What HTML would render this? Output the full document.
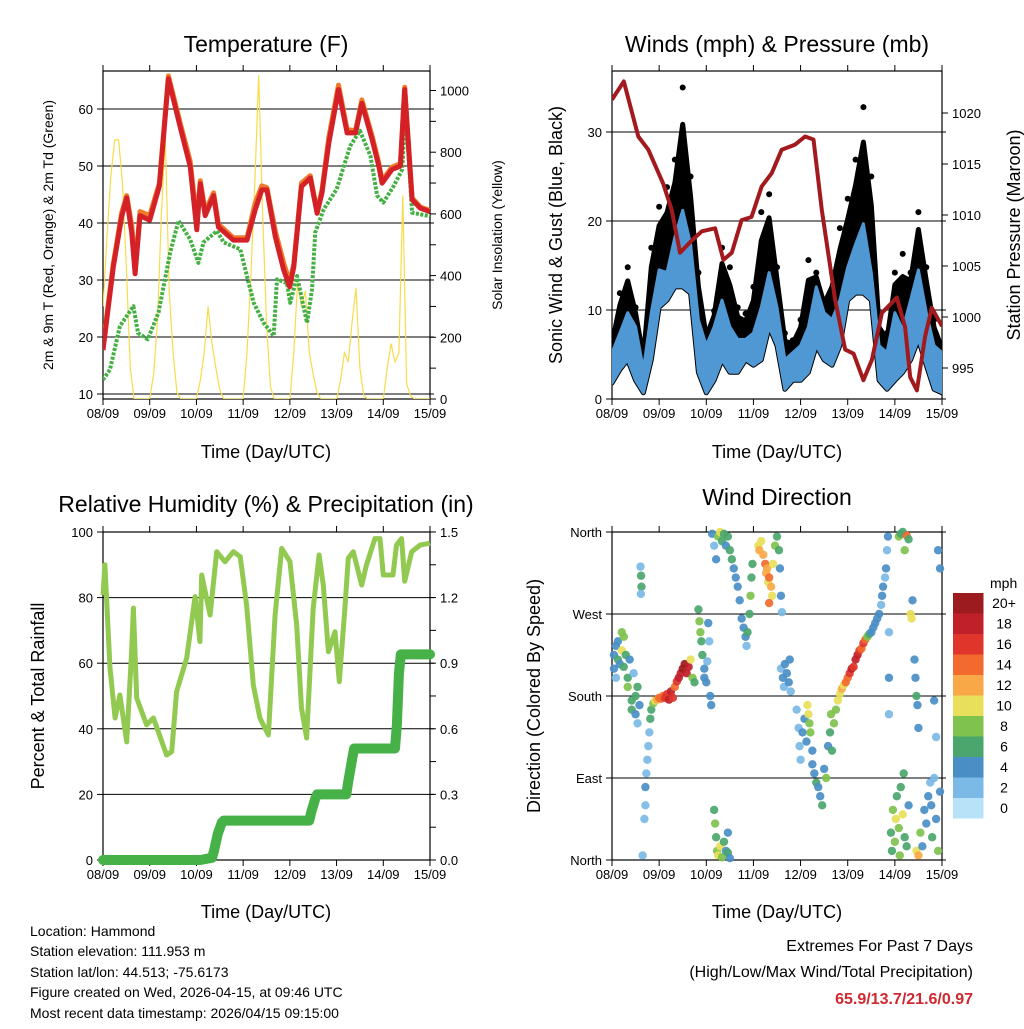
<!DOCTYPE html>
<html><head><meta charset="utf-8">
<style>
html,body{margin:0;padding:0;background:#fff;}
body{width:1024px;height:1024px;overflow:hidden;font-family:"Liberation Sans",sans-serif;}
svg text{font-family:"Liberation Sans",sans-serif;fill:#000;}
</style></head>
<body>
<svg id="chart" xmlns="http://www.w3.org/2000/svg" width="1024" height="1024" viewBox="0 0 1024 1024">
<rect x="0" y="0" width="1024" height="1024" fill="#fff"/>
<text x="266" y="52" font-size="23" text-anchor="middle">Temperature (F)</text>
<text x="777" y="52" font-size="23" text-anchor="middle">Winds (mph) &amp; Pressure (mb)</text>
<text x="266" y="512" font-size="23" text-anchor="middle">Relative Humidity (%) &amp; Precipitation (in)</text>
<text x="777" y="505" font-size="23" text-anchor="middle">Wind Direction</text>
<text x="266" y="458" font-size="18" text-anchor="middle">Time (Day/UTC)</text>
<text x="777" y="458" font-size="18" text-anchor="middle">Time (Day/UTC)</text>
<text x="266" y="918" font-size="18" text-anchor="middle">Time (Day/UTC)</text>
<text x="777" y="918" font-size="18" text-anchor="middle">Time (Day/UTC)</text>
<text transform="translate(53,235) rotate(-90)" font-size="14" text-anchor="middle">2m &amp; 9m T (Red, Orange) &amp; 2m Td (Green)</text>
<text transform="translate(502,235) rotate(-90)" font-size="14" text-anchor="middle">Solar Insolation (Yellow)</text>
<text transform="translate(562,235) rotate(-90)" font-size="18" text-anchor="middle">Sonic Wind &amp; Gust (Blue, Black)</text>
<text transform="translate(1020,235) rotate(-90)" font-size="18" text-anchor="middle">Station Pressure (Maroon)</text>
<text transform="translate(44,696) rotate(-90)" font-size="18" text-anchor="middle">Percent &amp; Total Rainfall</text>
<text transform="translate(540,696) rotate(-90)" font-size="18" text-anchor="middle">Direction (Colored By Speed)</text>
<g font-size="14">
<text x="30" y="936">Location: Hammond</text>
<text x="30" y="956">Station elevation: 111.953 m</text>
<text x="30" y="977">Station lat/lon: 44.513; -75.6173</text>
<text x="30" y="997">Figure created on Wed, 2026-04-15, at 09:46 UTC</text>
<text x="30" y="1018">Most recent data timestamp: 2026/04/15 09:15:00</text>
</g>
<g font-size="16" text-anchor="end">
<text x="973" y="951">Extremes For Past 7 Days</text>
<text x="973" y="977">(High/Low/Max Wind/Total Precipitation)</text>
<text x="973" y="1004" font-weight="bold" style="fill:#d0282f">65.9/13.7/21.6/0.97</text>
</g>
<g id="layer"></g>
</svg>
<script>
// ---------- data ----------
const dayLabels = ["08/09","09/09","10/09","11/09","12/09","13/09","14/09","15/09"];
const tempT = [0,5.3,9.6,12.2,14.8,16.5,19,24,29,33.6,39.6,44.8,48.2,50,52.5,56.8,59.3,67,74,78.2,81.6,84.2,88.5,92.8,95.9,98,102,106.5,110,112.5,116,121,125.4,129.7,133,138.3,141.7,143.4,148.5,152.8,155,158.8,163,168];
const tempRed = [17.7,32.3,41.1,44.4,38.2,31.1,41.3,40.5,46.5,65.3,56.9,49.9,38.8,46.9,41.3,44.8,39.3,37.0,37.0,42.3,45.8,45.8,37.6,31.8,28.8,32.3,46.4,47.9,41.7,45.3,54.0,63.4,55.8,55.8,61.0,54.6,50.0,47.0,49.4,50.0,63.4,44.1,42.6,42.0];
const tempOrange = [18.5,32.8,41.8,44.8,39.5,31.8,42.0,41.3,47.0,65.8,57.6,50.8,40.2,47.4,42.0,45.3,39.8,37.4,37.4,43.5,46.5,46.2,38.6,33.0,29.6,32.8,47.0,48.3,42.0,45.8,55.0,64.2,56.4,56.2,61.6,55.2,50.5,47.5,49.8,50.4,63.8,44.4,42.8,42.2];
const dewT = [0,3.6,8.7,15.6,18,23,28.5,34.5,38.8,44.8,49,51.6,58.5,62,70.5,77.4,82.5,87.7,89.4,94.5,96.2,99.7,104.8,107.4,109,113.4,120,127,132,137.4,140.8,144,149.4,153.7,155.4,158.8,168];
const dewV = [12.5,14.3,21.9,25.4,20.7,19.6,24.3,34.8,40.4,37.1,33.0,36.6,38.6,36.6,35.4,26.0,22.5,20.2,30.1,29.5,26.0,30.7,22.5,28.3,38.3,42.4,45.9,53.5,56.2,51.8,44.8,43.6,46.5,49.4,60.0,41.8,41.2];
const solarT = [0,2,4,6,8,10,12,14,16,24,26,28,30,32,34,36,38,40,48,50,52,54,56,58,60,62,72,74,76,78,80,82,84,86,88,96,98,100,102,104,106,108,110,112,120,122,124,126,128,130,132,134,136,144,146,148,150,152,154,156,158,160,168];
const solarV = [300,520,720,840,840,700,420,100,0,0,80,250,600,850,350,150,20,0,0,60,150,300,180,100,30,0,0,150,400,700,1050,600,250,40,0,0,150,380,300,350,150,80,20,0,0,60,150,120,250,360,100,10,0,0,100,180,120,150,660,50,10,0,0];
const windT = [0,4,8,12,16,20,24,28,32,36,40,44,48,52,56,60,64,68,72,76,80,84,88,92,96,100,104,108,112,116,120,124,128,132,136,140,144,148,152,156,160,164,168];
const windLow = [1.8,3.3,4.4,2.1,0.7,4.4,10.3,11.1,12.6,12.6,11.9,3.0,0.7,2.1,4.4,3.0,3.0,4.4,3.8,4.4,8.1,6.0,1.1,2.1,2.1,3.0,6.0,4.4,3.8,6.0,11.1,11.9,11.9,11.1,2.1,1.1,2.1,3.0,4.4,6.7,3.8,1.1,0.7];
const windHigh = [5.2,7.4,9.7,8.1,3.3,9.7,14.5,14.2,18.2,21.2,17.4,8.9,6.0,8.1,11.1,8.1,6.7,6.7,7.4,10.3,14.2,10.3,4.4,5.2,6.0,8.1,12.6,9.7,8.9,11.1,14.8,17.4,19.7,14.2,6.0,5.2,9.7,7.8,11.1,14.5,9.7,6.0,5.2];
const gustHigh = [6.6,11.9,14.8,10.3,5.2,17.0,21.6,23.8,26.9,35.0,25.0,14.2,7.4,9.9,17.0,14.8,10.3,9.6,12.6,21.0,23.0,14.8,7.4,6.6,8.9,15.6,14.2,11.1,14.2,19.2,22.5,26.9,32.8,25.0,8.9,7.4,14.2,16.3,14.2,21.0,14.8,8.9,5.9];
const presT = [0,6,13.4,18.5,26,30.4,34.6,40.6,45.7,52.5,56.7,61,66,71,76.2,81.3,86.4,93.2,98.3,102.6,106.8,113.6,118.7,123,128,132.3,137.4,145,149.2,151.8,155.2,159.4,162.8,168];
const presV = [1021.3,1023.1,1017.7,1016.4,1013.1,1010.5,1006.3,1007.5,1008.4,1008.7,1005.6,1006.3,1009.5,1009.8,1012.8,1014.1,1016.4,1016.9,1017.7,1017.4,1010.5,1001.7,996.8,996.4,993.8,995.8,1000.4,1001.9,999.0,994.1,992.8,998.1,1000.9,999.1];
const rhT = [0,1,3.6,6.2,8.7,12.2,14.7,15.6,17.3,22.4,25.9,32.7,35.3,37.8,43,47.3,49.8,50.7,55,58.4,62.7,67,70.5,73.8,77.2,80.6,85,88.4,91.8,96,99.5,102,104.6,108,111,113.2,115.8,119.2,121.4,124.3,126,128.6,132.9,135.4,139.7,142.3,144,149,150.8,153.4,155,158.6,162.9,168];
const rhV = [80.8,90,58.5,43.3,50.3,36,63.5,76.8,49.4,41.2,43.3,32,33,51.3,61.6,80.3,66.6,86.9,74.7,94,90.9,94,92.5,77.7,53.4,43.3,38.1,74.7,95,91,71.6,46.3,37.2,76.8,93,83.8,63.5,69.6,54.4,76.8,92,94,83.8,90,98,98,86.9,86.9,96,98,85,94,96,96.6];
const precipT = [0,50,56,57,59,61,62,106,107,109,110,125,126,128,129,150,151,152,153,168];
const precipV = [0,0,0.01,0.04,0.12,0.17,0.18,0.18,0.22,0.28,0.30,0.30,0.36,0.46,0.51,0.51,0.62,0.85,0.94,0.94];
const dirT = [1,1,2,2,3,3,4,5,5,6,6,7,8,8,9,10,10,11,12,12,13,13,14,14.5,14.8,15,14.7,15.6,16.5,17,17,17.5,18,18.5,19,19.5,20,21,22,23,24,25,26,27,28,29,30,31,32,33,34,35,36,37,38,39,40,41,42,44,44.5,45,45.5,46,47,47,48,48.5,49,49.5,50,50.5,52,52.5,53,53.5,54,55,56,57,58,59,59,60,51,52,53,54,55,56,57,58,59,60,61,62,63,64,65,66,67,68,68.5,69,70,70.5,71,71.5,74.5,75,76,77,78,78.5,79,79.5,80,81,81.5,82,83,84,85,85.5,86,86.5,80,86,87,87.5,88,89,90,90.5,91,94,95,95.5,96,97,98,99,99.5,100,100.5,101,102,102,103,104,105,106,107,108,109,110,111,111.5,112,113,114,115,116,117,118,119,120,121,122,123,124,125,126,127,128,129,130,131,132,133,134,135,136,137,137.5,138,139,139.5,140,140.5,141,141,141,142,142.5,143,144,144.5,145,146,146.5,147,148,148.5,149,150,151,146,147,148,149,150,151,152,152.5,153,154,154.5,155,155.5,156,155,156,157,158,159,160,161,162,162.5,163,164,165,166,167,166,167,164,165];
const dirDeg = [225,210,235,200,220,240,215,250,230,245,212,225,200,190,220,175,165,205,160,180,150,190,170,322,312,300,292,5,45,60,80,95,110,125,140,155,165,172,175,176,178,177,180,178,182,176,185,178,190,196,200,205,210,215,205,212,220,200,195,275,262,250,240,225,210,200,195,218,260,240,180,170,55,40,25,10,5,15,3,20,10,30,8,2,358,345,330,355,360,350,358,345,355,340,330,320,310,300,285,265,255,245,235,250,270,290,310,325,345,340,350,335,325,315,320,305,310,300,290,325,345,355,340,320,290,272,282,210,200,190,215,205,195,220,185,165,145,125,110,140,155,130,170,160,150,140,120,105,95,85,80,70,60,100,90,125,140,160,120,150,165,175,182,188,192,195,200,205,210,212,220,225,230,232,238,242,245,248,250,255,260,265,270,280,290,300,310,320,340,355,250,160,200,30,10,55,20,45,70,35,5,80,50,95,25,15,60,355,358,360,340,356,352,270,265,285,220,200,180,170,145,10,5,30,15,55,40,70,85,60,25,90,45,10,75,340,320,175,135];
const dirSpd = [4,4,4,2,6,4,4,8,10,8,6,6,6,8,4,6,6,2,4,6,2,6,4,2,6,6,2,2,2,2,4,2,2,2,2,6,6,8,10,12,14,14,14,16,16,18,18,16,14,16,18,18,20,20,18,18,10,8,6,6,8,8,6,6,4,4,4,2,4,2,4,4,6,8,6,8,10,10,8,6,4,4,6,4,4,2,4,8,10,6,6,4,6,6,6,4,4,4,4,4,4,4,2,6,6,8,6,6,10,12,10,12,14,12,12,10,14,12,10,10,8,6,6,4,4,2,14,2,4,2,4,4,4,4,2,2,2,2,2,4,4,4,10,10,8,8,4,4,4,6,4,4,6,4,8,4,6,8,6,8,8,10,10,12,10,14,14,16,18,16,18,18,16,14,16,14,8,6,4,4,4,4,4,2,4,4,2,4,2,4,2,2,4,6,6,8,8,10,6,8,8,6,10,6,6,6,4,8,6,6,8,14,6,10,10,4,4,4,6,4,4,10,12,8,4,4,4,4,2,4,6,2,4,8,4,4,4,4,2];
const spdColors = ["#b8e2f8","#7bbae6","#4a8ec6","#4aa66d","#7fc24e","#e8e05a","#f8a847","#f26a2e","#e0352b","#c0202a","#9b1b1e"];
const spdLabels = ["0","2","4","6","8","10","12","14","16","18","20+"];

// ---------- helpers ----------
const NS = "http://www.w3.org/2000/svg";
const layer = document.getElementById("layer");
function mk(tag, attrs, parent) {
  const el = document.createElementNS(NS, tag);
  for (const k in attrs) el.setAttribute(k, attrs[k]);
  (parent || layer).appendChild(el);
  return el;
}
function txt(x, y, s, size, anchor, parent) {
  const el = mk("text", {x: x, y: y, "font-size": size, "text-anchor": anchor}, parent);
  el.textContent = s;
  return el;
}
function pathFrom(xs, ys) {
  return xs.map((x, i) => (i ? "L" : "M") + x.toFixed(1) + "," + ys[i].toFixed(1)).join("");
}

const panels = {
  temp: {x0: 103, x1: 430, y0: 71, y1: 399},
  wind: {x0: 612, x1: 942, y0: 71, y1: 399},
  rh:   {x0: 103, x1: 430, y0: 532, y1: 860},
  dir:  {x0: 612, x1: 942, y0: 532, y1: 860}
};
function xf(p) { return t => p.x0 + t / 168 * (p.x1 - p.x0); }
const xT = xf(panels.temp), xW = xf(panels.wind), xR = xf(panels.rh), xD = xf(panels.dir);
const yTemp = v => 394 - (v - 10) * 5.7;
const ySol = v => 399 - v * 0.3085;
const yWind = v => 399 - v * 8.9;
const yPres = p => 113 + (1020 - p) * 10.2;
const yRH = v => 860 - v * 3.28;
const yPr = v => 860 - v * 218.7;
const yDir = d => 860 - d * 0.9111;

function clipFor(name, p) {
  const cp = mk("clipPath", {id: "clip-" + name});
  mk("rect", {x: p.x0, y: p.y0, width: p.x1 - p.x0, height: p.y1 - p.y0}, cp);
  return "url(#clip-" + name + ")";
}

function frame(name, p, xfun, leftTicks, leftFn, leftLabels, rightTicks, rightFn, rightLabels, gridFn, gridVals) {
  const g = mk("g", {});
  
  
  gridVals.forEach(v => {
    const gl = mk("line", {x1: p.x0, x2: p.x1 + 4, y1: gridFn(v), y2: gridFn(v), stroke: "#000", "stroke-width": 1}, g);
    
    
  });
  for (let d = 0; d < 8; d++) {
    const x = xfun(d * 24);
    mk("line", {x1: x, x2: x, y1: p.y1, y2: p.y1 + 6, stroke: "#000", "stroke-width": 1}, g);
    mk("line", {x1: x, x2: x, y1: p.y0, y2: p.y0 - 6, stroke: "#000", "stroke-width": 1}, g);
    const lab = txt(x, p.y1 + 19, dayLabels[d], 13, "middle", g);
    
    
  }
  leftTicks.forEach((v, i) => {
    const y = leftFn(v);
    mk("line", {x1: p.x0 - 6, x2: p.x0, y1: y, y2: y, stroke: "#000", "stroke-width": 1}, g);
    const lab = txt(p.x0 - 10, y + 5, leftLabels[i], 13, "end", g);
    
    
  });
  rightTicks.forEach((v, i) => {
    const y = rightFn(v);
    mk("line", {x1: p.x1, x2: p.x1 + 6, y1: y, y2: y, stroke: "#000", "stroke-width": 1}, g);
    if (rightLabels[i] !== "") {
      const lab = txt(p.x1 + 10, y + 5, rightLabels[i], 13, "start", g);
      
      
    }
  });
  const box = mk("rect", {x: p.x0, y: p.y0, width: p.x1 - p.x0, height: p.y1 - p.y0, fill: "none", stroke: "#000", "stroke-width": 1.2}, g);
  
  
}

// ---------- Temperature panel ----------
const tempTicks = [10,20,30,40,50,60];
const tempTickLabels = ["10","20","30","40","50","60"];
const solTicks = [0,100,200,300,400,500,600,700,800,900,1000];
const solTickLabels = ["0","","200","","400","","600","","800","","1000"];
frame("temperature", panels.temp, xT, tempTicks, yTemp, tempTickLabels, solTicks, ySol, solTickLabels, yTemp, tempTicks);
const cTemp = clipFor("temp", panels.temp);
const solar = mk("path", {d: pathFrom(solarT.map(xT), solarV.map(ySol)), fill: "none", stroke: "#f7dc4a", "stroke-width": 1.2, "clip-path": cTemp});


const dew = mk("path", {d: pathFrom(dewT.map(xT), dewV.map(yTemp)), fill: "none", stroke: "#44b044", "stroke-width": 4, "stroke-dasharray": "3 1.5", "stroke-linejoin": "round", "clip-path": cTemp});


const orange = mk("path", {d: pathFrom(tempT.map(xT), tempOrange.map(yTemp)), fill: "none", stroke: "#f07a2a", "stroke-width": 5, "stroke-linejoin": "round", "clip-path": cTemp});


const red = mk("path", {d: pathFrom(tempT.map(xT), tempRed.map(yTemp)), fill: "none", stroke: "#d42027", "stroke-width": 5, "stroke-linejoin": "round", "clip-path": cTemp});



// ---------- Winds panel ----------
const windTicks = [0,10,20,30];
const windTickLabels = ["0","10","20","30"];
const presTicks = [995,1000,1005,1010,1015,1020];
const presTickLabels = ["995","1000","1005","1010","1015","1020"];
frame("winds", panels.wind, xW, windTicks, yWind, windTickLabels, presTicks, yPres, presTickLabels, yWind, windTicks);
const cWind = clipFor("wind", panels.wind);
const wx = windT.map(xW);
const denseTop = gustHigh.map((g, i) => windHigh[i] + (g - windHigh[i]) * 0.7);
const gustPoly = pathFrom(wx, denseTop.map(yWind)) + pathFrom(wx.slice().reverse(), windLow.slice().reverse().map(yWind)).replace("M", "L") + "Z";
const gust = mk("path", {d: gustPoly, fill: "#000", stroke: "#000", "stroke-width": 5, "stroke-linejoin": "round", "clip-path": cWind});


windT.forEach((t, i) => {
  const dot = mk("circle", {cx: xW(t), cy: yWind(gustHigh[i]), r: 3, fill: "#000", "clip-path": cWind});
  
  
});
const windPoly = pathFrom(wx, windHigh.map(yWind)) + pathFrom(wx.slice().reverse(), windLow.slice().reverse().map(yWind)).replace("M", "L") + "Z";
const wind = mk("path", {d: windPoly, fill: "#4f98d4", stroke: "#4f98d4", "stroke-width": 3, "stroke-linejoin": "round", "clip-path": cWind});


const pres = mk("path", {d: pathFrom(presT.map(xW), presV.map(yPres)), fill: "none", stroke: "#a31a1e", "stroke-width": 4, "stroke-linejoin": "round", "clip-path": cWind});



// ---------- RH panel ----------
const rhTicks = [0,20,40,60,80,100];
const rhTickLabels = ["0","20","40","60","80","100"];
const prTicks = [0,0.15,0.3,0.45,0.6,0.75,0.9,1.05,1.2,1.35,1.5];
const prTickLabels = ["0.0","","0.3","","0.6","","0.9","","1.2","","1.5"];
frame("humidity", panels.rh, xR, rhTicks, yRH, rhTickLabels, prTicks, yPr, prTickLabels, yRH, rhTicks);
const rh = mk("path", {d: pathFrom(rhT.map(xR), rhV.map(yRH)), fill: "none", stroke: "#92c950", "stroke-width": 5, "stroke-linejoin": "round"});


const pr = mk("path", {d: pathFrom(precipT.map(xR), precipV.map(yPr)), fill: "none", stroke: "#46b147", "stroke-width": 10, "stroke-linejoin": "round", "stroke-linecap": "round"});



// ---------- Wind direction panel ----------
const dirTicks = [0,90,180,270,360];
const dirTickLabels = ["North","East","South","West","North"];
frame("direction", panels.dir, xD, dirTicks, yDir, dirTickLabels, [], yDir, [], yDir, dirTicks);
dirT.forEach((t, i) => {
  const ci = Math.min(10, Math.round(dirSpd[i] / 2));
  const dot = mk("circle", {cx: xD(t), cy: yDir(dirDeg[i]), r: 4.2, fill: spdColors[ci], opacity: 0.92});
  
  
});
// colorbar
const cb = mk("g", {});


const mph = txt(990, 588, "mph", 14, "start", cb);


spdColors.forEach((c, i) => {
  const k = spdColors.length - 1 - i;
  const y = 593 + i * 20.5;
  const sw = mk("rect", {x: 953, y: y, width: 30.5, height: 20.5, fill: spdColors[k]}, cb);
  
  
  const lab = txt(1004, y + 15, spdLabels[k], 14, "middle", cb);
  
  
});
</script>
</body></html>
